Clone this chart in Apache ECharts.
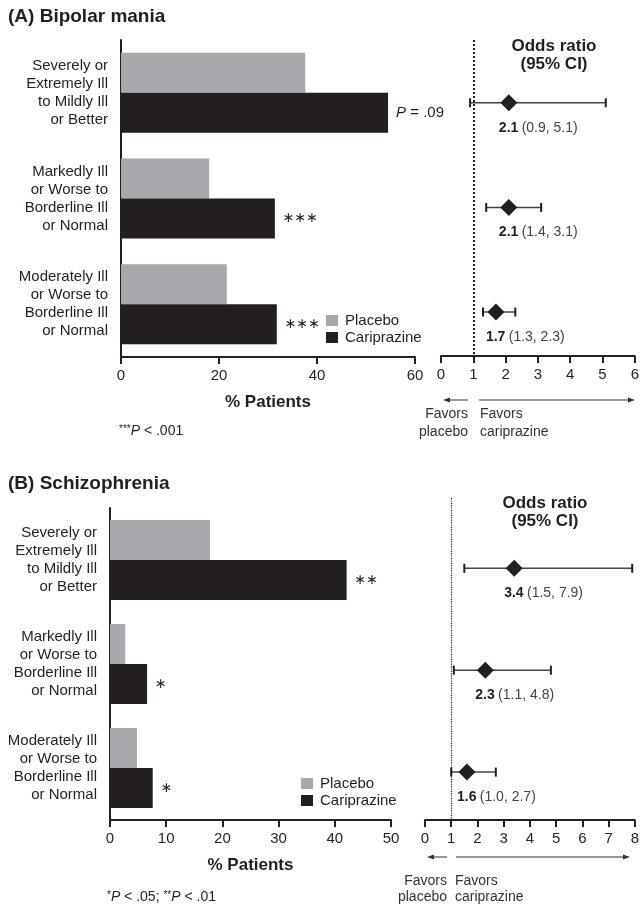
<!DOCTYPE html>
<html><head><meta charset="utf-8">
<script src="https://cdn.jsdelivr.net/npm/echarts@6/dist/echarts.min.js"></script>
<style>html,body{margin:0;padding:0;background:#fff}#c{width:642px;height:906px}</style>
</head><body><div id="c"></div>
<script>
// ---------- data ----------
const categories = [
  'Severely or\nExtremely Ill\nto Mildly Ill\nor Better',
  'Markedly Ill\nor Worse to\nBorderline Ill\nor Normal',
  'Moderately Ill\nor Worse to\nBorderline Ill\nor Normal'
];
const seriesNames = ['Placebo', 'Cariprazine'];
// (A) Bipolar mania
const placeboA = [37.6, 18.0, 21.6];
const caripA = [54.5, 31.4, 31.8];
const sigA = ['P = .09', '***', '***'];
const orA = [2.1, 2.1, 1.7];
const loA = [0.9, 1.4, 1.3];
const hiA = [5.1, 3.1, 2.3];
const pctTicksA = {min: 0, max: 60, interval: 20};
const orTicksA = {min: 0, max: 6, interval: 1};
// (B) Schizophrenia
const placeboB = [17.8, 2.7, 4.8];
const caripB = [42.1, 6.6, 7.6];
const sigB = ['**', '*', '*'];
const orB = [3.4, 2.3, 1.6];
const loB = [1.5, 1.1, 1.0];
const hiB = [7.9, 4.8, 2.7];
const pctTicksB = {min: 0, max: 50, interval: 10};
const orTicksB = {min: 0, max: 8, interval: 1};
const rows = [0, 1, 2];

// ---------- style ----------
const FONT = '"Liberation Sans", Arial, sans-serif';
const INK = '#231f20';
const GREY = '#a7a8ab';

const chart = echarts.init(document.getElementById('c'), null, {renderer: 'canvas'});

function pctAxis(gi, t) {
  return {
    type: 'value', gridIndex: gi, min: t.min, max: t.max, interval: t.interval,
    name: '% Patients', nameLocation: 'middle', nameGap: 37,
    nameTextStyle: {fontFamily: FONT, fontSize: 17, fontWeight: 'bold', color: INK},
    axisLine: {show: true, onZero: false, lineStyle: {color: INK, width: 2}},
    axisTick: {show: true, length: 7, lineStyle: {color: INK, width: 2}},
    axisLabel: {fontFamily: FONT, fontSize: 15, color: INK, margin: 11},
    splitLine: {show: false}
  };
}
function orAxis(gi, t) {
  return {
    type: 'value', gridIndex: gi, min: t.min, max: t.max, interval: t.interval,
    axisLine: {show: true, onZero: false, lineStyle: {color: INK, width: 2}},
    axisTick: {show: true, length: 7, lineStyle: {color: INK, width: 2}},
    axisLabel: {fontFamily: FONT, fontSize: 15, color: INK, margin: 11},
    splitLine: {show: false}
  };
}
function catAxis(gi) {
  return {
    type: 'category', gridIndex: gi, data: categories, inverse: true,
    axisLine: {show: true, onZero: false, lineStyle: {color: INK, width: 2}},
    axisTick: {show: false},
    axisLabel: {fontFamily: FONT, fontSize: 15, lineHeight: 18, color: INK, margin: 13, align: 'right'}
  };
}
function rowAxis(gi, mn, mx) {
  return {type: 'value', gridIndex: gi, min: mn, max: mx, inverse: true, show: false, splitLine: {show: false}};
}
function sigFormatter(sig) {
  return p => {
    const s = sig[p.dataIndex];
    if (s.charAt(0) === 'P') return '{i|P}{n|' + s.slice(1) + '}';
    return '{a|' + s.replace(/\*/g, '\u2217') + '}';
  };
}
const sigRich = {
  i: {fontFamily: FONT, fontSize: 15, fontStyle: 'italic', color: INK},
  n: {fontFamily: FONT, fontSize: 15, color: INK},
  a: {fontFamily: 'DejaVu Sans', fontSize: 14, color: INK}
};
function barSeries(xi, yi, pl, ca, sig) {
  return [
    {name: seriesNames[0], type: 'bar', xAxisIndex: xi, yAxisIndex: yi, data: pl, barWidth: 40, barGap: '0%',
     itemStyle: {color: GREY}, silent: true},
    {name: seriesNames[1], type: 'bar', xAxisIndex: xi, yAxisIndex: yi, data: ca, barWidth: 40, barGap: '0%',
     itemStyle: {color: INK}, silent: true,
     label: {show: true, position: 'right', distance: 8, formatter: sigFormatter(sig), rich: sigRich}}
  ];
}
function forestSeries(xi, yi, or, lo, hi, lw) {
  const data = rows.map((r, i) => [r, or[i], lo[i], hi[i]]);
  return [
    {type: 'custom', name: 'ci' + xi, xAxisIndex: xi, yAxisIndex: yi, data: data, silent: true,
     encode: {x: [1, 2, 3], y: 0},
     renderItem: (params, api) => {
       const r = api.value(0), o = api.value(1), l = api.value(2), h = api.value(3);
       const p = api.coord([o, r]), pl = api.coord([l, r]), ph = api.coord([h, r]);
       return {type: 'group', children: [
         {type: 'line', shape: {x1: pl[0], y1: pl[1], x2: ph[0], y2: ph[1]}, style: {stroke: '#444', lineWidth: 1.5}},
         {type: 'line', shape: {x1: pl[0], y1: pl[1] - 4.5, x2: pl[0], y2: pl[1] + 4.5}, style: {stroke: INK, lineWidth: 2}},
         {type: 'line', shape: {x1: ph[0], y1: ph[1] - 4.5, x2: ph[0], y2: ph[1] + 4.5}, style: {stroke: INK, lineWidth: 2}},
         {type: 'text', x: p[0] - 10, y: p[1] + 18, style: {
           text: '{b|' + o.toFixed(1) + '} {n|(' + l.toFixed(1) + ', ' + h.toFixed(1) + ')}',
           rich: {b: {fontFamily: FONT, fontSize: 14, fontWeight: 'bold', fill: INK},
                  n: {fontFamily: FONT, fontSize: 14, fill: '#444'}},
           align: 'left', verticalAlign: 'top'}}
       ]};
     }},
    {type: 'scatter', name: 'or' + xi, xAxisIndex: xi, yAxisIndex: yi, silent: true, z: 5,
     data: rows.map((r, i) => [or[i], r]), symbol: 'diamond', symbolSize: [17, 17],
     itemStyle: {color: INK, opacity: 1},
     markLine: {silent: true, symbol: 'none', label: {show: false},
       lineStyle: {type: 'dotted', color: INK, width: lw, opacity: 1}, data: [{xAxis: 1}]}}
  ];
}

const legendBase = {
  data: seriesNames, orient: 'vertical', icon: 'rect', itemWidth: 12, itemHeight: 11, itemGap: 2,
  selectedMode: false, textStyle: {fontFamily: FONT, fontSize: 15, color: INK, padding: [0, 0, 0, 2]}
};

function txt(x, y, text, extra) {
  return Object.assign({type: 'text', x: x, y: y, silent: true,
    style: Object.assign({text: text, fontFamily: FONT, fontSize: 15, fill: INK}, extra || {})});
}
function arrow(x1, x2, y) {
  const d = x2 > x1 ? 1 : -1;
  return [
    {type: 'line', silent: true, shape: {x1: x1, y1: y, x2: x2 - d * 5, y2: y}, style: {stroke: '#333', lineWidth: 1}},
    {type: 'polygon', silent: true, shape: {points: [[x2, y], [x2 - d * 7, y - 2.5], [x2 - d * 7, y + 2.5]]}, style: {fill: '#333'}}
  ];
}
const footRich = {
  s: {fontFamily: FONT, fontSize: 10, fill: INK, verticalAlign: 'top', padding: [0, 0, 5, 0]},
  i: {fontFamily: FONT, fontSize: 14, fontStyle: 'italic', fill: INK},
  n: {fontFamily: FONT, fontSize: 14, fill: INK}
};

const option = {
  animation: false,
  backgroundColor: '#fff',
  textStyle: {fontFamily: FONT},
  grid: [
    {left: 121, top: 40, width: 294, height: 317},
    {left: 441, top: 40, width: 197, height: 316},
    {left: 110, top: 508, width: 281, height: 312},
    {left: 425, top: 498, width: 211, height: 322}
  ],
  xAxis: [pctAxis(0, pctTicksA), orAxis(1, orTicksA), pctAxis(2, pctTicksB), orAxis(3, orTicksB)],
  yAxis: [catAxis(0), rowAxis(1, -0.6, 2.42), catAxis(2), rowAxis(3, -0.69, 2.47)],
  legend: [
    Object.assign({left: 321, top: 308}, legendBase),
    Object.assign({left: 296, top: 771}, legendBase)
  ],
  series: [].concat(
    barSeries(0, 0, placeboA, caripA, sigA),
    forestSeries(1, 1, orA, loA, hiA, 2),
    barSeries(2, 2, placeboB, caripB, sigB),
    forestSeries(3, 3, orB, loB, hiB, 1.2)
  ),
  graphic: [].concat(
    [
      txt(8, 7, '(A) Bipolar mania', {fontSize: 19, fontWeight: 'bold'}),
      txt(8, 474, '(B) Schizophrenia', {fontSize: 19, fontWeight: 'bold'}),
      txt(554, 37, 'Odds ratio\n(95% CI)', {fontSize: 17, fontWeight: 'bold', align: 'center', lineHeight: 18}),
      txt(545, 494, 'Odds ratio\n(95% CI)', {fontSize: 17, fontWeight: 'bold', align: 'center', lineHeight: 18}),
      txt(468, 405, 'Favors\nplacebo', {fontSize: 14, align: 'right', lineHeight: 18, fill: '#333'}),
      txt(480, 405, 'Favors\ncariprazine', {fontSize: 14, align: 'left', lineHeight: 18, fill: '#333'}),
      txt(447, 873, 'Favors\nplacebo', {fontSize: 14, align: 'right', lineHeight: 16, fill: '#333'}),
      txt(455, 873, 'Favors\ncariprazine', {fontSize: 14, align: 'left', lineHeight: 16, fill: '#333'}),
      txt(119, 424, '{s|***}{i|P}{n| < .001}', {rich: footRich}),
      txt(107, 890, '{s|*}{i|P}{n| < .05; }{s|**}{i|P}{n| < .01}', {rich: footRich})
    ],
    arrow(468, 443, 400), arrow(479, 635, 400),
    arrow(447, 427, 857), arrow(456, 630, 857)
  )
};
chart.setOption(option);
</script>
</body></html>
